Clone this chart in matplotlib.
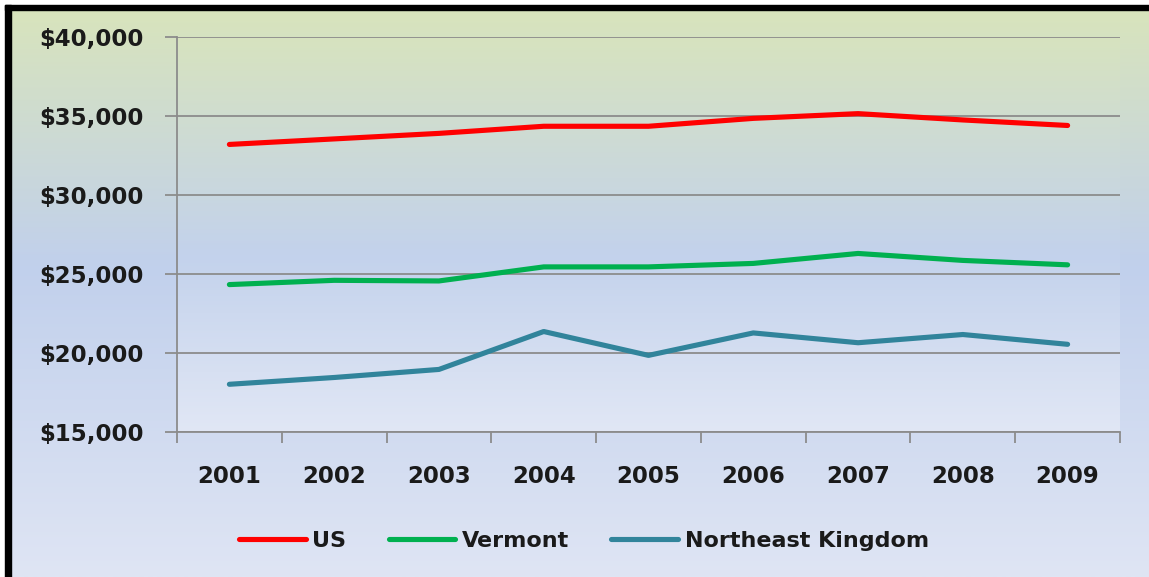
import numpy as np
import matplotlib
matplotlib.use("Agg")
import matplotlib.pyplot as plt
from matplotlib.colors import to_rgb
from matplotlib.patches import Rectangle
from matplotlib.ticker import FuncFormatter, FixedLocator

# Per capita income, 2001-2009
years = ["2001", "2002", "2003", "2004", "2005", "2006", "2007", "2008", "2009"]
us = [33200, 33550, 33900, 34350, 34350, 34850, 35150, 34750, 34400]
vermont = [24330, 24600, 24560, 25450, 25450, 25670, 26300, 25860, 25580]
northeast_kingdom = [18020, 18450, 18960, 21360, 19850, 21270, 20650, 21170, 20550]

series_names = ["US", "Vermont", "Northeast Kingdom"]
series_colors = ["#ff0000", "#00b050", "#31849b"]

W, H = 1149, 577
fig = plt.figure(figsize=(W / 100, H / 100), dpi=100, facecolor="white")


def vgradient(stops, n=400):
    pos = np.array([s[0] for s in stops])
    cols = np.array([to_rgb(s[1]) for s in stops])
    t = np.linspace(0, 1, n)
    out = np.stack([np.interp(t, pos, cols[:, i]) for i in range(3)], axis=-1)
    return out[:, None, :]


# Background layer in pixel coordinates
bg = fig.add_axes([0, 0, 1, 1], zorder=-10)
bg.set_xlim(0, W)
bg.set_ylim(H, 0)
bg.axis("off")

outer = vgradient([(0.0, "#d8e4bc"), (0.45, "#c1d0ec"), (1.0, "#dfe5f4")])
bg.imshow(outer, extent=(11, W, H, 10), aspect="auto", interpolation="bilinear", zorder=1)

inner = vgradient([(0.0, "#d7e3bf"), (0.55, "#c3d2ec"), (1.0, "#e1e7f5")])
bg.imshow(inner, extent=(177, 1120, 432, 37), aspect="auto", interpolation="bilinear", zorder=2)
bg.set_xlim(0, W)
bg.set_ylim(H, 0)

# Frame edges
bg.add_patch(Rectangle((5, 5), W - 5, 5, color="black", zorder=3))
bg.add_patch(Rectangle((5, 5), 6, H - 5, color="black", zorder=3))

# Chart area
ax = fig.add_axes([177 / W, 1 - 432 / H, (1120 - 177) / W, (432 - 37) / H])
ax.patch.set_visible(False)

x = np.arange(len(years))
lines = []
for vals, name, col in zip([us, vermont, northeast_kingdom], series_names, series_colors):
    (ln,) = ax.plot(x, vals, color=col, lw=3.7, solid_capstyle="round",
                    solid_joinstyle="round", label=name, zorder=3)
    lines.append(ln)

ax.set_xlim(-0.5, len(years) - 0.5)
ax.set_ylim(15000, 40000)

grid_col = "#8c8c8c"
ax.set_yticks(np.arange(15000, 40001, 5000))
ax.yaxis.set_major_formatter(FuncFormatter(lambda v, p: f"${v:,.0f}"))
ax.grid(axis="y", color=grid_col, lw=1.3, zorder=1)
ax.set_xticks(x)
ax.set_xticklabels(years)
ax.xaxis.set_minor_locator(FixedLocator(np.arange(-0.5, len(years), 1.0)))

for s in ["top", "right"]:
    ax.spines[s].set_visible(False)
for s in ["left", "bottom"]:
    ax.spines[s].set_color(grid_col)
    ax.spines[s].set_linewidth(1.3)

tick_font = dict(family="DejaVu Sans", weight="bold", size=16.5)
ax.tick_params(axis="y", length=9, width=1.3, color=grid_col, pad=15, labelcolor="#1a1a1a")
ax.tick_params(axis="x", which="major", length=0, pad=24, labelcolor="#1a1a1a")
ax.tick_params(axis="x", which="minor", length=8, width=1.3, color=grid_col, direction="out")
for lab in ax.get_yticklabels() + ax.get_xticklabels():
    lab.set_fontproperties(matplotlib.font_manager.FontProperties(**tick_font))

leg = fig.legend(lines, series_names, loc="center", bbox_to_anchor=(584 / W, 1 - 541 / H),
                 ncol=3, frameon=False, handlelength=3.0, handletextpad=0.3,
                 columnspacing=1.9, prop=dict(family="DejaVu Sans", weight="bold", size=16))
for t in leg.get_texts():
    t.set_color("#1a1a1a")

fig.savefig("out.png", dpi=100, facecolor=fig.get_facecolor())
